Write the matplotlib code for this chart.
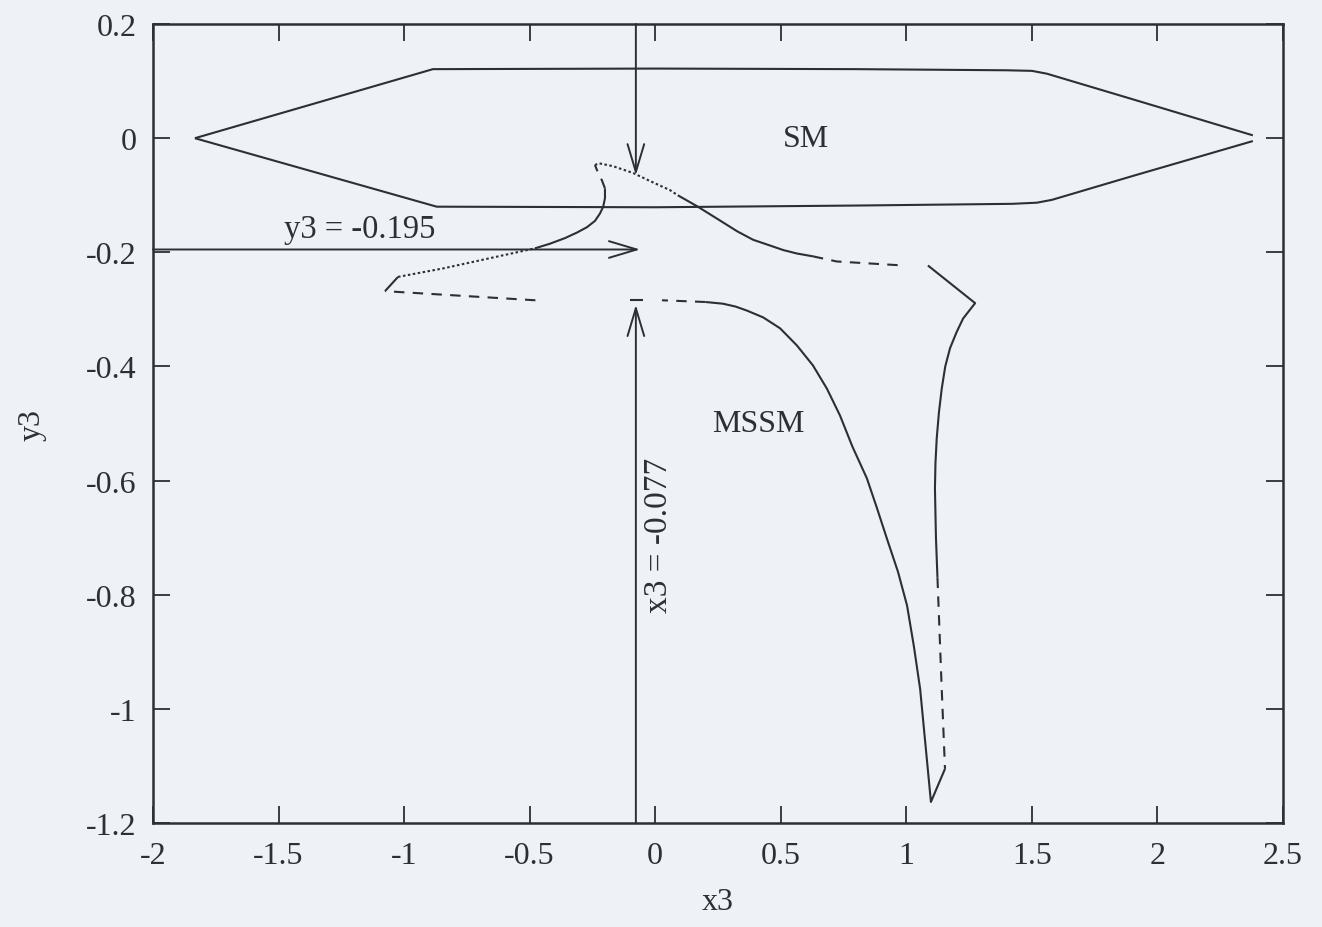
import matplotlib
matplotlib.use("Agg")
import matplotlib.pyplot as plt

plt.rcParams['font.family'] = ['Liberation Serif', 'DejaVu Serif']
plt.rcParams['axes.unicode_minus'] = False

# ---------------- data ----------------
sm_upper_x = [-1.833, -0.885, 0.0, 0.8, 1.40, 1.50, 1.56, 1.903, 2.38]
sm_upper_y = [0.0, 0.121, 0.122, 0.121, 0.119, 0.118, 0.113, 0.068, 0.005]
sm_lower_x = [-1.833, -0.87, 0.0, 0.8, 1.42, 1.52, 1.58, 1.903, 2.38]
sm_lower_y = [0.0, -0.120, -0.121, -0.118, -0.115, -0.113, -0.108, -0.066, -0.005]

# MSSM curve, split by line style
mssm_a_x = [-0.477, -1.076]; mssm_a_y = [-0.284, -0.268]                   # dashed
mssm_b_x = [-1.076, -1.024]; mssm_b_y = [-0.268, -0.243]                   # solid
mssm_c_x = [-1.024, -0.843, -0.479]; mssm_c_y = [-0.243, -0.228, -0.193]   # dotted
mssm_d_x = [-0.479, -0.42, -0.359, -0.31, -0.272, -0.24, -0.220, -0.207, -0.200, -0.200]
mssm_d_y = [-0.193, -0.185, -0.175, -0.165, -0.156, -0.145, -0.132, -0.120, -0.105, -0.088]  # solid
mssm_e_x = [-0.200, -0.212, -0.228, -0.240]
mssm_e_y = [-0.088, -0.074, -0.060, -0.047]                                # dashed
mssm_f_x = [-0.240, -0.224, -0.168, -0.088, -0.021, 0.059, 0.09]
mssm_f_y = [-0.047, -0.044, -0.049, -0.061, -0.075, -0.091, -0.100]        # dotted
mssm_g_x = [0.09, 0.166, 0.25, 0.326, 0.39, 0.457, 0.51, 0.564, 0.628]
mssm_g_y = [-0.100, -0.119, -0.142, -0.163, -0.178, -0.188, -0.196, -0.202, -0.207]  # solid
mssm_h_x = [0.628, 0.723, 0.987]; mssm_h_y = [-0.207, -0.216, -0.223]      # dashed
mssm_i_x = [1.086, 1.274, 1.226, 1.20, 1.174, 1.155, 1.141, 1.13, 1.121, 1.116, 1.114,
            1.118, 1.124]
mssm_i_y = [-0.223, -0.289, -0.316, -0.340, -0.368, -0.400, -0.439, -0.480, -0.526,
            -0.570, -0.614, -0.700, -0.770]                                 # solid
mssm_j_x = [1.124, 1.141, 1.154]; mssm_j_y = [-0.770, -0.965, -1.105]      # dashed
mssm_k_x = [1.154, 1.098, 1.055, 1.03, 1.003, 0.967, 0.923, 0.883, 0.843, 0.785, 0.736,
            0.684, 0.628, 0.564, 0.497, 0.430, 0.365, 0.32, 0.270, 0.200]
mssm_k_y = [-1.105, -1.163, -0.965, -0.890, -0.819, -0.760, -0.702, -0.648, -0.596,
            -0.540, -0.486, -0.439, -0.398, -0.363, -0.333, -0.314, -0.302, -0.295,
            -0.290, -0.287]                                                 # solid
mssm_l_x = [0.200, 0.027]; mssm_l_y = [-0.287, -0.284]                     # dashed
mssm_m_x = [-0.100, -0.049]; mssm_m_y = [-0.284, -0.284]                   # solid dash

x3_cut = -0.077
y3_cut = -0.195
x3_arrow_top_tip = -0.065
x3_arrow_bottom_tip = -0.292
y3_arrow_tip = -0.06

xticks = [-2, -1.5, -1, -0.5, 0, 0.5, 1, 1.5, 2, 2.5]
xticklabels = ['-2', '-1.5', '-1', '-0.5', '0', '0.5', '1', '1.5', '2', '2.5']
yticks = [0.2, 0, -0.2, -0.4, -0.6, -0.8, -1, -1.2]
yticklabels = ['0.2', '0', '-0.2', '-0.4', '-0.6', '-0.8', '-1', '-1.2']

# ---------------- figure ----------------
bg = '#eef1f5'
ink = '#2a3036'
fig = plt.figure(figsize=(13.22, 9.28), dpi=100, facecolor=bg)
ax = fig.add_axes([0.1157, 0.112, 0.9705 - 0.1157, 0.973 - 0.112])
ax.set_facecolor(bg)
ax.set_xlim(-2, 2.5)
ax.set_ylim(-1.2, 0.2)

lw = 1.5
solid = dict(color=ink, lw=lw, linestyle='-', solid_capstyle='butt', solid_joinstyle='round')
dashed = dict(color=ink, lw=lw, linestyle=(0, (5, 4)))
dotted = dict(color=ink, lw=lw, linestyle=(0, (1.2, 1.2)))

ax.plot(sm_upper_x, sm_upper_y, **solid)
ax.plot(sm_lower_x, sm_lower_y, **solid)

ax.plot(mssm_a_x, mssm_a_y, **dashed)
ax.plot(mssm_b_x, mssm_b_y, **solid)
ax.plot(mssm_c_x, mssm_c_y, **dotted)
ax.plot(mssm_d_x, mssm_d_y, **solid)
ax.plot(mssm_e_x, mssm_e_y, **dashed)
ax.plot(mssm_f_x, mssm_f_y, **dotted)
ax.plot(mssm_g_x, mssm_g_y, **solid)
ax.plot(mssm_h_x, mssm_h_y, **dashed)
ax.plot(mssm_i_x, mssm_i_y, **solid)
ax.plot(mssm_j_x, mssm_j_y, **dashed)
ax.plot(mssm_k_x, mssm_k_y, **solid)
ax.plot(mssm_l_x, mssm_l_y, **dashed)
ax.plot(mssm_m_x, mssm_m_y, **solid)

arrow = dict(arrowstyle='->,head_length=1.0,head_width=0.3', color=ink, lw=1.4,
             shrinkA=0, shrinkB=0, mutation_scale=20)
ax.annotate('', xy=(x3_cut, x3_arrow_top_tip), xytext=(x3_cut, 0.2), arrowprops=arrow)
ax.annotate('', xy=(x3_cut, x3_arrow_bottom_tip), xytext=(x3_cut, -1.2), arrowprops=arrow)
ax.annotate('', xy=(y3_arrow_tip, y3_cut), xytext=(-2, y3_cut), arrowprops=arrow)

ax.text(-1.48, y3_cut + 0.010, 'y3 = -0.195', fontsize=23.5, color=ink, ha='left', va='bottom')
ax.text(-0.048, -0.695, 'x3 = -0.077', fontsize=24, color=ink, rotation=90,
        ha='left', va='center')
ax.text(0.6, 0.0, 'SM', fontsize=23, color=ink, ha='center', va='center')
ax.text(0.41, -0.50, 'MSSM', fontsize=23, color=ink, ha='center', va='center')

ax.set_xticks(xticks)
ax.set_xticklabels(xticklabels)
ax.set_yticks(yticks)
ax.set_yticklabels(yticklabels)
ax.tick_params(direction='in', length=12, width=1.3, color=ink, labelcolor=ink,
               labelsize=23, top=True, right=True)
ax.tick_params(axis='x', pad=13)
ax.tick_params(axis='y', pad=12)
for s in ax.spines.values():
    s.set_color(ink)
    s.set_linewidth(1.8)

ax.set_xlabel('x3', fontsize=23, color=ink, labelpad=12)
ax.set_ylabel('y3', fontsize=23, color=ink, labelpad=28)

fig.savefig('out.png', dpi=100, facecolor=bg)
